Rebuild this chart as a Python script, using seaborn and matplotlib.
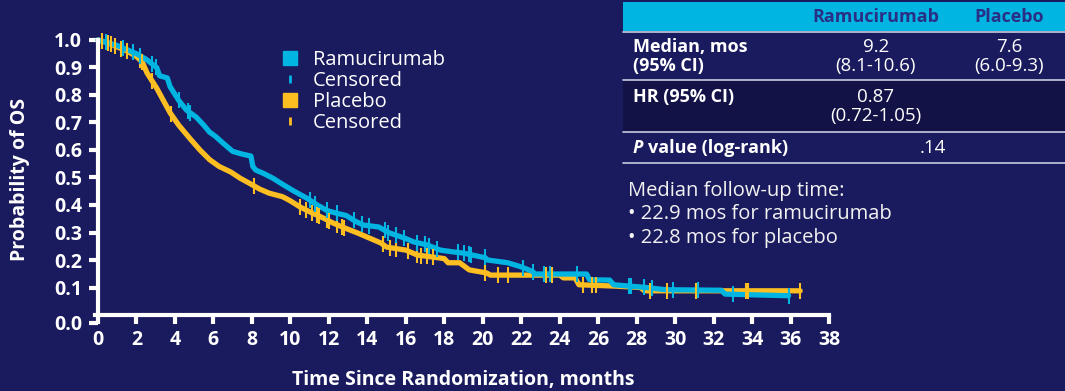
import numpy as np
import pandas as pd
import matplotlib
matplotlib.use("Agg")
import matplotlib.pyplot as plt
from matplotlib.lines import Line2D
from matplotlib.patches import Rectangle
import seaborn as sns

# ---------------- data ----------------
arms = ["Ramucirumab", "Placebo"]

# Kaplan-Meier estimates (months, survival probability); repeated times are drops
ram_time = [0, 0.5, 1.0, 1.5, 2.0, 2.5, 3.05, 3.2, 3.6, 3.75, 4.2, 4.6, 5.1, 5.5,
            5.8, 6.1, 6.5, 7.0, 7.5, 7.95, 8.05, 8.2, 8.6, 9.1, 9.6, 10.2, 10.85,
            11.4, 11.9, 12.4, 12.9, 13.4, 13.8, 14.6, 15.1, 15.5, 16.0, 16.4, 17.1,
            17.8, 18.4, 19.0, 20.0, 20.1, 20.25, 21.3, 22.0, 22.6, 22.7, 25.4,
            25.55, 26.6, 26.8, 28.5, 29.5, 32.4, 32.6, 35.9]
ram_surv = [1.0, 0.99, 0.98, 0.965, 0.95, 0.93, 0.90, 0.87, 0.862, 0.83, 0.78,
            0.745, 0.72, 0.69, 0.665, 0.65, 0.625, 0.595, 0.585, 0.578, 0.54,
            0.527, 0.515, 0.497, 0.475, 0.45, 0.425, 0.40, 0.38, 0.37, 0.362,
            0.34, 0.327, 0.32, 0.30, 0.29, 0.278, 0.266, 0.255, 0.236, 0.23,
            0.225, 0.21, 0.21, 0.20, 0.19, 0.175, 0.158, 0.149, 0.149, 0.128,
            0.127, 0.11, 0.10, 0.092, 0.09, 0.076, 0.07]

pbo_time = [0, 0.5, 1.0, 1.5, 2.0, 2.3, 2.55, 3.05, 3.4, 3.75, 4.2, 4.8, 5.3, 5.8,
            6.3, 6.9, 7.4, 7.9, 8.4, 8.9, 9.6, 10.0, 10.5, 11.1, 11.7, 12.2, 12.7,
            13.5, 14.1, 14.7, 15.0, 16.0, 16.6, 17.8, 18.0, 18.2, 18.8, 19.3,
            20.2, 20.4, 24.0, 24.2, 24.8, 25.0, 26.9, 28.2, 28.4, 36.5]
pbo_surv = [1.0, 0.99, 0.975, 0.96, 0.94, 0.92, 0.88, 0.825, 0.78, 0.735, 0.69,
            0.64, 0.60, 0.565, 0.54, 0.52, 0.497, 0.478, 0.458, 0.443, 0.43,
            0.415, 0.393, 0.372, 0.353, 0.335, 0.32, 0.298, 0.28, 0.262, 0.247,
            0.236, 0.218, 0.207, 0.205, 0.19, 0.19, 0.164, 0.153, 0.145, 0.145,
            0.135, 0.135, 0.11, 0.105, 0.10, 0.088, 0.088]

ram_censor = [0.4, 1.3, 1.8, 2.2, 2.8, 3.0, 4.2, 4.7, 4.8, 11.0, 11.3, 11.9, 12.4,
              13.3, 13.7, 14.1, 14.9, 15.1, 15.5, 15.9, 16.6, 17.0, 17.2, 17.6,
              18.7, 19.0, 19.3, 19.4, 20.1, 22.1, 22.6, 23.2, 23.5, 24.9, 27.6,
              27.7, 28.4, 28.8, 29.9, 31.2, 33.0, 35.9]
pbo_censor = [0.2, 0.5, 0.7, 0.9, 1.2, 1.5, 2.2, 2.3, 2.8, 3.8, 8.1, 10.5, 10.8,
              11.1, 11.4, 11.5, 11.9, 12.0, 12.4, 12.7, 12.8, 14.8, 15.2, 15.5,
              16.1, 16.6, 16.8, 17.1, 17.4, 20.1, 20.8, 21.3, 23.3, 23.6, 25.2,
              25.7, 25.9, 28.7, 29.6, 31.1, 33.7, 33.8, 36.5]

x_ticks = list(range(0, 39, 2))
y_tick_labels = ["0.0", "0.1", "0.2", "0.3", "0.4", "0.5", "0.6", "0.7", "0.8",
                 "0.9", "1.0"]

table_header = ["", "Ramucirumab", "Placebo"]
table_rows = [
    ("Median, mos\n(95% CI)", "9.2\n(8.1-10.6)", "7.6\n(6.0-9.3)"),
    ("HR (95% CI)", "0.87\n(0.72-1.05)", ""),
    ("value (log-rank)", ".14", ""),
]
followup_lines = ["Median follow-up time:",
                  "\u2022 22.9 mos for ramucirumab",
                  "\u2022 22.8 mos for placebo"]

# ---------------- style ----------------
NAVY = "#1a1a5e"
NAVY_DARK = "#121247"
CYAN = "#00b5e2"
YELLOW = "#fdbe22"
HEADER_TXT = "#2a2f86"
RULE = "#c9cbe0"
WHITE = "#ffffff"

sns.set_theme(style="ticks")
plt.rcParams["font.family"] = ["Open Sans", "DejaVu Sans"]
plt.rcParams["axes.facecolor"] = NAVY
plt.rcParams["figure.facecolor"] = NAVY

W, H = 1065, 391
fig = plt.figure(figsize=(W / 100, H / 100), dpi=100)


def fx(px):
    return px / W


def fy(py):
    return 1 - py / H


y_lo, y_hi = -0.035, 1.02
ax_h = (y_hi - y_lo) * 275
ax_bottom_px = 315 - y_lo * 275
ax = fig.add_axes([fx(98), (H - ax_bottom_px) / H, 731 / W, ax_h / H])
ax.set_facecolor(NAVY)

# survival curves
df = pd.concat([
    pd.DataFrame({"time": ram_time, "surv": ram_surv, "arm": arms[0]}),
    pd.DataFrame({"time": pbo_time, "surv": pbo_surv, "arm": arms[1]}),
])
palette = {arms[0]: CYAN, arms[1]: YELLOW}
sns.lineplot(data=df, x="time", y="surv", hue="arm", hue_order=[arms[1], arms[0]],
             palette=palette, estimator=None, sort=False, linewidth=3.8,
             legend=False, ax=ax, clip_on=False, solid_joinstyle="round")

# censoring ticks sit on their own curve
for tc, tt, ss, col in [(pbo_censor, pbo_time, pbo_surv, YELLOW),
                        (ram_censor, ram_time, ram_surv, CYAN)]:
    tc = np.asarray(tc)
    ax.plot(tc, np.interp(tc, tt, ss), linestyle="none", marker="|",
            markersize=11, markeredgewidth=1.5, color=col, clip_on=False)

# axes
ax.set_xlim(0, 38)
ax.set_ylim(y_lo, y_hi)
ax.set_xticks(x_ticks)
ax.set_xticklabels([str(v) for v in x_ticks])
y_pos = [-0.029] + [round(0.1 * i, 1) for i in range(1, 11)]
ax.set_yticks(y_pos)
ax.set_yticklabels(y_tick_labels)
ax.spines["top"].set_visible(False)
ax.spines["right"].set_visible(False)
ax.spines["left"].set_bounds(0, 1.0)
ax.spines["bottom"].set_position(("data", 0))
ax.spines["bottom"].set_bounds(-0.15, 38)
for s in ["left", "bottom"]:
    ax.spines[s].set_color(WHITE)
    ax.spines[s].set_linewidth(3)
ax.tick_params(axis="both", colors=WHITE, direction="out", width=3, length=6.5,
               labelsize=14, bottom=True, left=True)
ax.tick_params(axis="y", pad=5)
ax.tick_params(axis="x", pad=4)
for lab in ax.get_xticklabels() + ax.get_yticklabels():
    lab.set_fontweight("bold")
    lab.set_color(WHITE)
ax.grid(False)
ax.set_xlabel("Time Since Randomization, months", color=WHITE, fontsize=14,
              fontweight="bold", labelpad=15)
ax.set_ylabel("Probability of OS", color=WHITE, fontsize=14, fontweight="bold",
              labelpad=17)

# legend
handles = [
    Line2D([], [], linestyle="none", marker="s", markersize=10, color=CYAN),
    Line2D([], [], linestyle="none", marker="|", markersize=6, markeredgewidth=2,
           color=CYAN),
    Line2D([], [], linestyle="none", marker="s", markersize=10, color=YELLOW),
    Line2D([], [], linestyle="none", marker="|", markersize=6, markeredgewidth=2,
           color=YELLOW),
]
fig.legend(handles, ["Ramucirumab", "Censored", "Placebo", "Censored"],
           loc="upper left", bbox_to_anchor=(fx(280), fy(50)), frameon=False,
           fontsize=14.5, labelcolor=WHITE, handlelength=1.0, handletextpad=0.65,
           labelspacing=0.05, borderpad=0, borderaxespad=0)

# summary table
tx0, tx1 = 623, 1065
fig.add_artist(Rectangle((fx(tx0), fy(31)), fx(tx1) - fx(tx0), fy(2) - fy(31),
                         transform=fig.transFigure, color=CYAN, lw=0))
fig.add_artist(Rectangle((fx(tx0), fy(132)), fx(tx1) - fx(tx0), fy(80) - fy(132),
                         transform=fig.transFigure, color=NAVY_DARK, lw=0))
for ry in [32, 80, 132, 163]:
    fig.add_artist(Line2D([fx(tx0), fx(tx1)], [fy(ry), fy(ry)],
                          transform=fig.transFigure, color=RULE, lw=1.2))

col_x = [633, 876, 1009]
for j in (1, 2):
    fig.text(fx(col_x[j]), fy(17), table_header[j], ha="center", va="center",
             fontsize=13, fontweight="bold", color=HEADER_TXT)

row_top = [38, 88, 139]
for (lab, v1, v2), yt in zip(table_rows, row_top):
    if lab.startswith("value"):
        fig.text(fx(col_x[0]), fy(yt), "P", ha="left", va="top", fontsize=13,
                 fontweight="bold", fontstyle="italic", color=WHITE)
        fig.text(fx(col_x[0] + 15), fy(yt), lab, ha="left", va="top",
                 fontsize=13, fontweight="bold", color=WHITE)
        fig.text(fx(933), fy(yt), v1, ha="center", va="top", fontsize=13.5,
                 color=WHITE)
        continue
    fig.text(fx(col_x[0]), fy(yt), lab, ha="left", va="top", fontsize=13,
             fontweight="bold", color=WHITE, linespacing=1.08)
    fig.text(fx(col_x[1]), fy(yt), v1, ha="center", va="top", fontsize=13.5,
             color=WHITE, linespacing=1.08, multialignment="center")
    if v2:
        fig.text(fx(col_x[2]), fy(yt), v2, ha="center", va="top", fontsize=13.5,
                 color=WHITE, linespacing=1.08, multialignment="center")

for i, line in enumerate(followup_lines):
    fig.text(fx(628), fy(191 + 23.3 * i), line, ha="left", va="center",
             fontsize=14.5, color="#f2f2f2")

fig.savefig("out.png", dpi=100, facecolor=NAVY)
